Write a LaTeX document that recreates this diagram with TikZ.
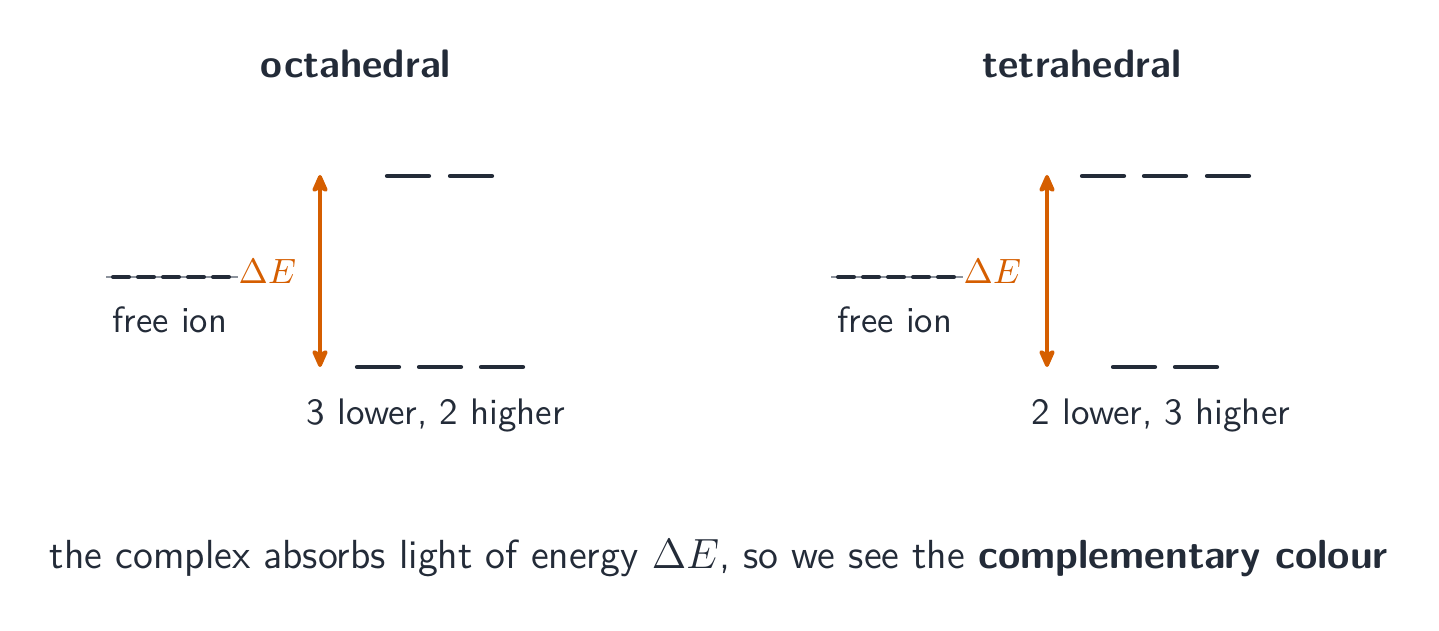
\documentclass[tikz,border=0pt]{standalone}
\usetikzlibrary{arrows.meta}
\definecolor{ink}{HTML}{232B38}
\definecolor{accent}{HTML}{D55E00}
\definecolor{guide}{HTML}{8C929C}
\begin{document}
\begin{tikzpicture}[x=0.01cm,y=-0.01cm,
  level/.style={draw=ink,line width=1.2pt,line cap=round},
  ionlevel/.style={draw=ink,line width=1.15pt,line cap=round},
  guideline/.style={draw=guide,line width=0.6pt},
  gap/.style={draw=accent,line width=1.05pt,{Stealth[length=6pt,width=5.2pt,inset=1.2pt,round]}-{Stealth[length=6pt,width=5.2pt,inset=1.2pt,round]}},
  txt/.style={text=ink,inner sep=0pt,font=\sffamily\fontsize{10.5pt}{12pt}\selectfont},
  captxt/.style={text=ink,inner sep=0pt,font=\sffamily\fontsize{11.55pt}{13pt}\selectfont},
  title/.style={text=ink,inner sep=0pt,font=\sffamily\bfseries\fontsize{11.3pt}{13pt}\selectfont}]
\useasboundingbox (0,0) rectangle (1439,631);
% titles
\node[title,anchor=base] (toct) at (356,78) {octahedral};
\node[title,anchor=base] (ttet) at (1082,78) {tetrahedral};
% ---- octahedral ----
\draw[guideline] (106,277) -- (238,277);
\foreach \c in {121,146,171,196,221}
  \draw[ionlevel] (\c-8,277) -- (\c+8,277);
\node[txt,anchor=base west,text=accent,font=\fontsize{10.2pt}{12pt}\selectfont] (deo) at (238,284) {$\Delta E$};
\node[txt,anchor=base west,font=\sffamily\fontsize{10.4pt}{12pt}\selectfont] (fio) at (112,333) {free ion};
\coordinate (oatop) at (320,175);
\coordinate (oabot) at (320,367);
\draw[gap] (oatop) -- (oabot);
\foreach \c in {408,471}
  \draw[level] (\c-21,176) -- (\c+21,176);
\foreach \c in {378,440,502}
  \draw[level] (\c-21,367) -- (\c+21,367);
\node[txt,anchor=base] (lo) at (436,425) {3 lower, 2 higher};
% ---- tetrahedral ----
\draw[guideline] (831,277) -- (963,277);
\foreach \c in {846,871,896,921,946}
  \draw[ionlevel] (\c-8,277) -- (\c+8,277);
\node[txt,anchor=base west,text=accent,font=\fontsize{10.2pt}{12pt}\selectfont] (det) at (963,284) {$\Delta E$};
\node[txt,anchor=base west,font=\sffamily\fontsize{10.4pt}{12pt}\selectfont] (fit) at (837,333) {free ion};
\coordinate (tatop) at (1047,175);
\coordinate (tabot) at (1047,367);
\draw[gap] (tatop) -- (tabot);
\foreach \c in {1103,1165,1228}
  \draw[level] (\c-21,176) -- (\c+21,176);
\foreach \c in {1134,1196}
  \draw[level] (\c-21,367) -- (\c+21,367);
\node[txt,anchor=base] (lt) at (1161,425) {2 lower, 3 higher};
% caption
\node[captxt,anchor=base] (cap) at (719,569) {the complex absorbs light of energy $\Delta E$, so we see the \textbf{complementary colour}};
\end{tikzpicture}
\end{document}
